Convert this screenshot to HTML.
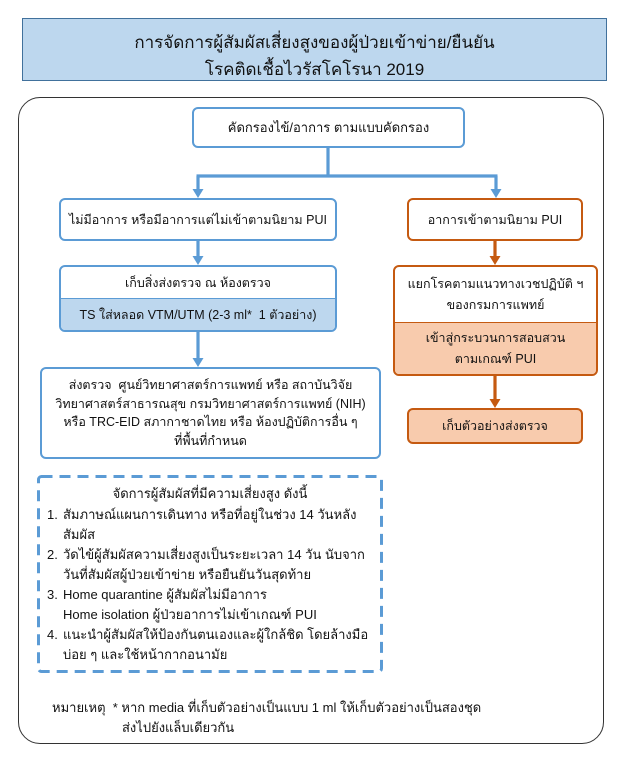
<!DOCTYPE html>
<html>
<head>
<meta charset="utf-8">
<style>
  html,body{margin:0;padding:0;background:#fff;}
  body{width:627px;height:758px;position:relative;overflow:hidden;
    font-family:"Liberation Sans","DejaVu Sans","Noto Sans CJK SC",sans-serif;color:#111;}
  .abs{position:absolute;box-sizing:border-box;}
  .title{left:22px;top:18px;width:585px;height:63px;background:#bdd7ee;border:1.5px solid #41719c;
    text-align:center;font-size:17px;line-height:27px;padding-top:10px;white-space:nowrap;}
  .outer{left:18px;top:97px;width:586px;height:647px;border:1.6px solid #333;border-radius:22px;}
  .bbox{border:2px solid #5b9bd5;border-radius:6px;background:#fff;overflow:hidden;}
  .obox{border:2px solid #c55a11;border-radius:6px;background:#fff;overflow:hidden;}
  .c{display:flex;align-items:center;justify-content:center;text-align:center;white-space:nowrap;font-size:12.5px;}
  .half{position:absolute;left:0;right:0;}
  .list{font-size:13px;line-height:20px;white-space:nowrap;}
  .note{font-size:13px;white-space:nowrap;}
</style>
</head>
<body>

<div class="abs title">การจัดการผู้สัมผัสเสี่ยงสูงของผู้ป่วยเข้าข่าย/ยืนยัน<br>โรคติดเชื้อไวรัสโคโรนา 2019</div>

<div class="abs outer"></div>

<!-- connectors -->
<svg class="abs" style="left:0;top:0" width="627" height="758" viewBox="0 0 627 758">
  <g stroke="#5b9bd5" stroke-width="3.2" fill="none">
    <line x1="328" y1="148" x2="328" y2="176"/>
    <line x1="196.5" y1="176" x2="497.5" y2="176"/>
    <line x1="198" y1="176" x2="198" y2="190"/>
    <line x1="496" y1="176" x2="496" y2="190"/>
    <line x1="198" y1="241" x2="198" y2="257"/>
    <line x1="198" y1="332" x2="198" y2="359"/>
  </g>
  <g fill="#5b9bd5">
    <polygon points="192.5,189 203.5,189 198,198"/>
    <polygon points="490.5,189 501.5,189 496,198"/>
    <polygon points="192.5,256 203.5,256 198,265"/>
    <polygon points="192.5,358 203.5,358 198,367"/>
  </g>
  <g stroke="#c55a11" stroke-width="3.2" fill="none">
    <line x1="495" y1="241" x2="495" y2="257"/>
    <line x1="495" y1="376" x2="495" y2="400"/>
  </g>
  <g fill="#c55a11">
    <polygon points="489.5,256 500.5,256 495,265"/>
    <polygon points="489.5,399 500.5,399 495,408"/>
  </g>
  <!-- dashed box -->
  <rect x="38.5" y="476.5" width="343" height="195" rx="3" ry="3" fill="none" stroke="#5b9bd5" stroke-width="3" stroke-dasharray="11 7"/>
</svg>

<!-- top box -->
<div class="abs bbox c" style="left:192px;top:107px;width:273px;height:41px;font-size:13px;">คัดกรองไข้/อาการ ตามแบบคัดกรอง</div>

<!-- left branch -->
<div class="abs bbox c" style="left:59px;top:198px;width:278px;height:43px;">ไม่มีอาการ หรือมีอาการแต่ไม่เข้าตามนิยาม PUI</div>

<div class="abs bbox" style="left:59px;top:265px;width:278px;height:67px;">
  <div class="half c" style="top:0;height:31px;">เก็บสิ่งส่งตรวจ ณ ห้องตรวจ</div>
  <div class="half c" style="top:31px;bottom:0;background:#bdd7ee;border-top:1.5px solid #5b9bd5;">TS ใส่หลอด VTM/UTM (2-3 ml*&nbsp;&nbsp;1 ตัวอย่าง)</div>
</div>

<div class="abs bbox c" style="left:40px;top:367px;width:341px;height:92px;line-height:18.5px;">
  <div>ส่งตรวจ&nbsp; ศูนย์วิทยาศาสตร์การแพทย์ หรือ สถาบันวิจัย<br>วิทยาศาสตร์สาธารณสุข กรมวิทยาศาสตร์การแพทย์ (NIH)<br>หรือ TRC-EID สภากาชาดไทย หรือ ห้องปฏิบัติการอื่น ๆ<br>ที่พื้นที่กำหนด</div>
</div>

<div class="abs c" style="left:37px;top:483px;width:346px;height:20px;font-size:13px;">จัดการผู้สัมผัสที่มีความเสี่ยงสูง ดังนี้</div>
<div class="abs list" style="left:47px;top:505px;">1.</div>
<div class="abs list" style="left:63px;top:505px;">สัมภาษณ์แผนการเดินทาง หรือที่อยู่ในช่วง 14 วันหลัง<br>สัมผัส</div>
<div class="abs list" style="left:47px;top:545px;">2.</div>
<div class="abs list" style="left:63px;top:545px;">วัดไข้ผู้สัมผัสความเสี่ยงสูงเป็นระยะเวลา 14 วัน นับจาก<br>วันที่สัมผัสผู้ป่วยเข้าข่าย หรือยืนยันวันสุดท้าย</div>
<div class="abs list" style="left:47px;top:585px;">3.</div>
<div class="abs list" style="left:63px;top:585px;">Home quarantine ผู้สัมผัสไม่มีอาการ<br>Home isolation ผู้ป่วยอาการไม่เข้าเกณฑ์ PUI</div>
<div class="abs list" style="left:47px;top:625px;">4.</div>
<div class="abs list" style="left:63px;top:625px;">แนะนำผู้สัมผัสให้ป้องกันตนเองและผู้ใกล้ชิด โดยล้างมือ<br>บ่อย ๆ และใช้หน้ากากอนามัย</div>

<!-- right branch -->
<div class="abs obox c" style="left:407px;top:198px;width:176px;height:43px;">อาการเข้าตามนิยาม PUI</div>

<div class="abs obox" style="left:393px;top:265px;width:205px;height:111px;">
  <div class="half c" style="top:0;height:55px;line-height:21px;">แยกโรคตามแนวทางเวชปฏิบัติ ฯ<br>ของกรมการแพทย์</div>
  <div class="half c" style="top:55px;bottom:0;background:#f8cbad;border-top:1.5px solid #c55a11;line-height:21px;">เข้าสู่กระบวนการสอบสวน<br>ตามเกณฑ์ PUI</div>
</div>

<div class="abs obox c" style="left:407px;top:408px;width:176px;height:36px;background:#f8cbad;">เก็บตัวอย่างส่งตรวจ</div>

<!-- note -->
<div class="abs note" style="left:52px;top:697px;">หมายเหตุ&nbsp; * หาก media ที่เก็บตัวอย่างเป็นแบบ 1 ml ให้เก็บตัวอย่างเป็นสองชุด</div>
<div class="abs note" style="left:122px;top:717px;">ส่งไปยังแล็บเดียวกัน</div>

</body>
</html>
